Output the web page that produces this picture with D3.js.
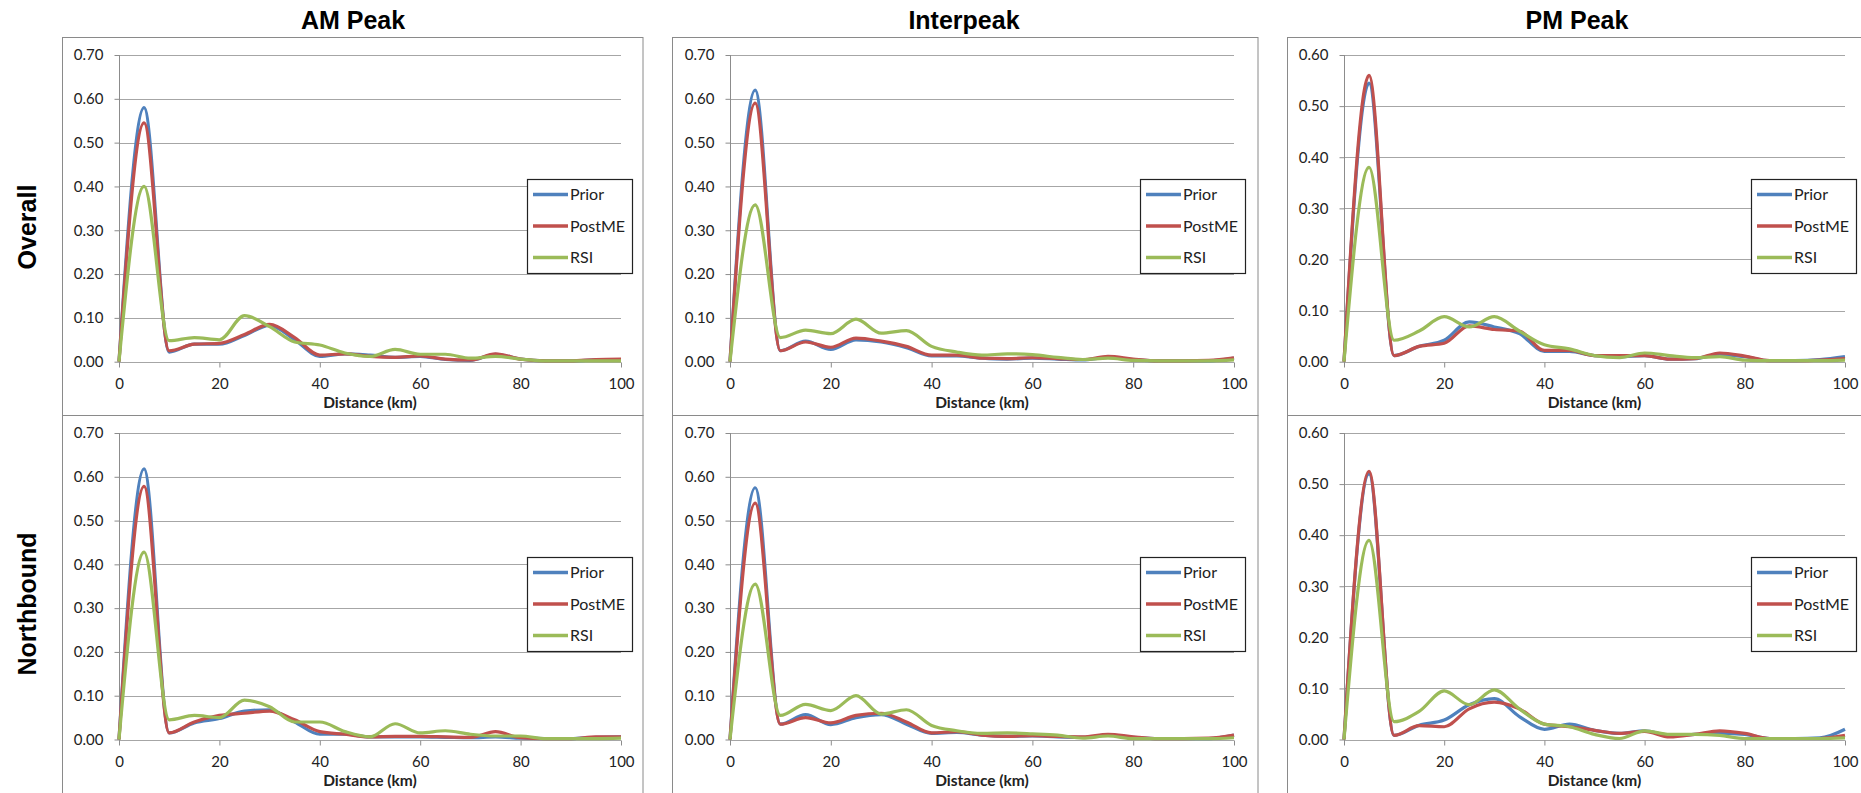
<!DOCTYPE html>
<html>
<head>
<meta charset="utf-8">
<script src="https://cdn.jsdelivr.net/npm/d3@7"></script>
<style>
  body { margin: 0; background: #fff; }
  svg { display: block; }
  .tick text { font-family: Lato, "Open Sans", sans-serif; font-size: 15px; fill: #222; }
  .tick line { stroke: #8c8c8c; }
  .domain { display: none; }
</style>
</head>
<body>
<div id="chart"></div>
<script>
//DATA
const distance = [0, 5, 10, 15, 20, 25, 30, 35, 40, 45, 50, 55, 60, 65, 70, 75, 80, 85, 90, 95, 100];
const seriesNames = ['Prior', 'PostME', 'RSI'];
const periods = ['AM Peak', 'Interpeak', 'PM Peak'];
const directions = ['Overall', 'Northbound'];
const xTicks = [0, 20, 40, 60, 80, 100];
const yTicks70 = [0, 0.1, 0.2, 0.3, 0.4, 0.5, 0.6, 0.7];
const yTicks60 = [0, 0.1, 0.2, 0.3, 0.4, 0.5, 0.6];

// AM Peak - Overall
const amOverallPrior  = [0, 0.580, 0.022, 0.040, 0.040, 0.060, 0.083, 0.050, 0.012, 0.018, 0.015, 0.010, 0.012, 0.005, 0.003, 0.017, 0.006, 0.002, 0.002, 0.004, 0.005];
const amOverallPostME = [0, 0.545, 0.025, 0.040, 0.042, 0.062, 0.085, 0.055, 0.015, 0.018, 0.012, 0.010, 0.013, 0.006, 0.004, 0.018, 0.006, 0.002, 0.002, 0.005, 0.006];
const amOverallRSI    = [0, 0.400, 0.048, 0.055, 0.050, 0.105, 0.080, 0.045, 0.038, 0.020, 0.012, 0.028, 0.017, 0.017, 0.008, 0.012, 0.006, 0.002, 0.002, 0.002, 0.002];
// Interpeak - Overall
const ipOverallPrior  = [0, 0.620, 0.025, 0.047, 0.028, 0.050, 0.045, 0.032, 0.013, 0.013, 0.008, 0.006, 0.008, 0.006, 0.004, 0.010, 0.005, 0.002, 0.002, 0.002, 0.008];
const ipOverallPostME = [0, 0.590, 0.025, 0.045, 0.033, 0.054, 0.047, 0.035, 0.015, 0.015, 0.008, 0.007, 0.009, 0.007, 0.005, 0.012, 0.006, 0.002, 0.002, 0.003, 0.009];
const ipOverallRSI    = [0, 0.358, 0.055, 0.072, 0.064, 0.097, 0.065, 0.071, 0.035, 0.022, 0.015, 0.018, 0.016, 0.010, 0.005, 0.008, 0.003, 0.002, 0.002, 0.002, 0.004];
// PM Peak - Overall
const pmOverallPrior  = [0, 0.545, 0.012, 0.030, 0.042, 0.078, 0.068, 0.055, 0.020, 0.020, 0.012, 0.010, 0.012, 0.005, 0.006, 0.014, 0.010, 0.002, 0.002, 0.004, 0.010];
const pmOverallPostME = [0, 0.560, 0.012, 0.030, 0.036, 0.070, 0.063, 0.060, 0.022, 0.022, 0.012, 0.012, 0.012, 0.005, 0.006, 0.017, 0.011, 0.002, 0.002, 0.003, 0.006];
const pmOverallRSI    = [0, 0.380, 0.042, 0.060, 0.088, 0.068, 0.088, 0.060, 0.033, 0.025, 0.012, 0.008, 0.017, 0.012, 0.008, 0.010, 0.003, 0.002, 0.002, 0.002, 0.003];
// AM Peak - Northbound
const amNorthPrior  = [0, 0.618, 0.015, 0.038, 0.048, 0.065, 0.068, 0.040, 0.012, 0.012, 0.006, 0.006, 0.006, 0.005, 0.004, 0.006, 0.003, 0.002, 0.002, 0.005, 0.006];
const amNorthPostME = [0, 0.578, 0.015, 0.040, 0.055, 0.060, 0.065, 0.045, 0.018, 0.012, 0.006, 0.007, 0.007, 0.006, 0.005, 0.018, 0.004, 0.002, 0.002, 0.006, 0.006];
const amNorthRSI    = [0, 0.428, 0.045, 0.055, 0.050, 0.090, 0.075, 0.040, 0.040, 0.018, 0.006, 0.036, 0.015, 0.020, 0.012, 0.008, 0.008, 0.002, 0.002, 0.002, 0.003];
// Interpeak - Northbound
const ipNorthPrior  = [0, 0.575, 0.035, 0.057, 0.034, 0.050, 0.057, 0.035, 0.014, 0.016, 0.010, 0.007, 0.008, 0.006, 0.005, 0.010, 0.005, 0.002, 0.002, 0.002, 0.010];
const ipNorthPostME = [0, 0.540, 0.035, 0.050, 0.038, 0.055, 0.060, 0.040, 0.015, 0.018, 0.010, 0.007, 0.009, 0.007, 0.006, 0.012, 0.006, 0.002, 0.002, 0.003, 0.010];
const ipNorthRSI    = [0, 0.355, 0.055, 0.080, 0.066, 0.100, 0.058, 0.068, 0.032, 0.020, 0.014, 0.015, 0.013, 0.010, 0.003, 0.008, 0.002, 0.002, 0.002, 0.002, 0.004];
// PM Peak - Northbound
const pmNorthPrior  = [0, 0.520, 0.008, 0.028, 0.038, 0.068, 0.080, 0.045, 0.020, 0.030, 0.018, 0.012, 0.017, 0.008, 0.010, 0.012, 0.010, 0.002, 0.002, 0.003, 0.020];
const pmNorthPostME = [0, 0.525, 0.008, 0.027, 0.025, 0.060, 0.073, 0.060, 0.030, 0.025, 0.018, 0.012, 0.016, 0.005, 0.010, 0.017, 0.012, 0.002, 0.002, 0.002, 0.008];
const pmNorthRSI    = [0, 0.390, 0.035, 0.055, 0.095, 0.068, 0.097, 0.060, 0.030, 0.025, 0.010, 0.002, 0.017, 0.010, 0.010, 0.008, 0.002, 0.002, 0.002, 0.002, 0.003];

const panels = [
    [[amOverallPrior, amOverallPostME, amOverallRSI], [ipOverallPrior, ipOverallPostME, ipOverallRSI], [pmOverallPrior, pmOverallPostME, pmOverallRSI]],
    [[amNorthPrior, amNorthPostME, amNorthRSI], [ipNorthPrior, ipNorthPostME, ipNorthRSI], [pmNorthPrior, pmNorthPostME, pmNorthRSI]]
];
const yMax = [0.7, 0.7, 0.6];
const yTicks = [yTicks70, yTicks70, yTicks60];

//LAYOUT
const colors = ['#4F81BD', '#C0504D', '#9BBB59'];
const cols = [
    { boxL: 62.5, boxR: 643, x0: 119, x1: 621 },
    { boxL: 672.5, boxR: 1258, x0: 730, x1: 1234 },
    { boxL: 1287.5, boxR: 1870, x0: 1344, x1: 1845 }
];
const rows = [
    { boxT: 37.5, boxB: 415.5, y0: 361.7, y1: 55 },
    { boxT: 415.5, boxB: 800, y0: 739.5, y1: 433 }
];

const svg = d3.select('#chart').append('svg').attr('width', 1861).attr('height', 793);

// column titles
periods.forEach((p, i) => {
    const c = cols[i];
    svg.append('text')
        .attr('x', i === 0 ? 353 : i === 1 ? 964 : 1577)
        .attr('y', 29)
        .attr('text-anchor', 'middle')
        .style('font-family', '"Liberation Sans", Arial, sans-serif')
        .style('font-weight', 'bold')
        .style('font-size', '25px')
        .text(p);
});

// row titles
directions.forEach((d, j) => {
    const r = rows[j];
    const cy = j === 0 ? 227 : 604;
    svg.append('text')
        .attr('transform', 'translate(35.5,' + cy + ') rotate(-90)')
        .attr('text-anchor', 'middle')
        .style('font-family', '"Liberation Sans", Arial, sans-serif')
        .style('font-weight', 'bold')
        .style('font-size', '25px')
        .text(d);
});

rows.forEach((r, j) => {
    cols.forEach((c, i) => {
        const g = svg.append('g');
        g.append('rect')
            .attr('x', c.boxL).attr('y', r.boxT)
            .attr('width', c.boxR - c.boxL).attr('height', r.boxB - r.boxT)
            .attr('fill', 'none').attr('stroke', '#8a8a8a').attr('stroke-width', 1);

        const x = d3.scaleLinear().domain([0, 100]).range([c.x0, c.x1]);
        const y = d3.scaleLinear().domain([0, yMax[i]]).range([r.y0, r.y1]);

        // gridlines
        g.selectAll('.grid').data(yTicks[i]).enter().append('line')
            .attr('x1', c.x0).attr('x2', c.x1)
            .attr('y1', d => Math.round(y(d)) + 0.5).attr('y2', d => Math.round(y(d)) + 0.5)
            .attr('stroke', '#a6a6a6').attr('stroke-width', 1);

        // y axis line
        g.append('line')
            .attr('x1', c.x0 + 0.5).attr('x2', c.x0 + 0.5)
            .attr('y1', r.y1).attr('y2', r.y0 + 5)
            .attr('stroke', '#8c8c8c');

        g.append('g')
            .attr('transform', 'translate(' + (c.x0 + 0.5) + ',0)')
            .call(d3.axisLeft(y).tickValues(yTicks[i]).tickFormat(d3.format('.2f')).tickSize(5).tickPadding(11));

        g.append('g')
            .attr('transform', 'translate(0,' + (Math.round(r.y0) + 0.5) + ')')
            .call(d3.axisBottom(x).tickValues(xTicks).tickFormat(d3.format('d')).tickSize(5).tickPadding(11));

        g.append('text')
            .attr('x', (c.x0 + c.x1) / 2)
            .attr('y', r.y0 + 46)
            .attr('text-anchor', 'middle')
            .style('font-family', 'Lato, "Open Sans", sans-serif')
            .style('font-weight', 'bold')
            .style('font-size', '15.5px')
            .style('fill', '#222')
            .text('Distance (km)');

        // lines
        const line = d3.line()
            .x((d, k) => x(distance[k]))
            .y(d => y(d))
            .curve(d3.curveMonotoneX);
        panels[j][i].forEach((s, k) => {
            g.append('path')
                .attr('d', line(s))
                .attr('fill', 'none')
                .attr('stroke', colors[k])
                .attr('stroke-width', 3.2)
                .attr('stroke-linejoin', 'round');
        });

        // legend
        const lg = g.append('g').attr('transform', 'translate(' + (c.x1 - 94) + ',' + (r.y1 + 124) + ')');
        lg.append('rect')
            .attr('x', 0.5).attr('y', 0.5).attr('width', 105).attr('height', 94)
            .attr('fill', '#fff').attr('stroke', '#222').attr('stroke-width', 1.2);
        seriesNames.forEach((n, k) => {
            const ly = 15.5 + k * 31.5;
            lg.append('line')
                .attr('x1', 6).attr('x2', 41).attr('y1', ly).attr('y2', ly)
                .attr('stroke', colors[k]).attr('stroke-width', 3.5);
            lg.append('text')
                .attr('x', 43).attr('y', ly + 5.5)
                .style('font-family', 'Lato, "Open Sans", sans-serif')
                .style('font-size', '16px')
                .style('fill', '#222')
                .text(n);
        });
    });
});
</script>
</body>
</html>
